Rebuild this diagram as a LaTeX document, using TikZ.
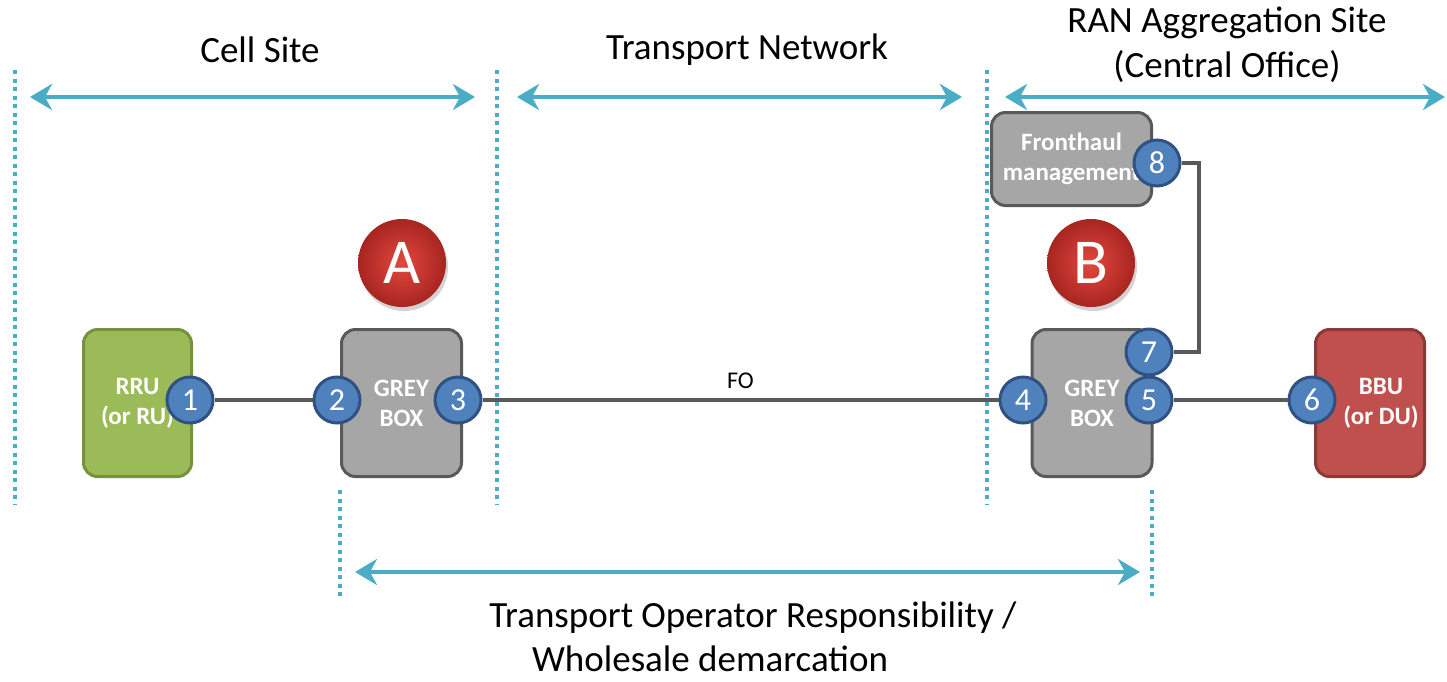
\documentclass[tikz,border=0pt]{standalone}
\usepackage{fontspec}
\setmainfont{Carlito}
\usetikzlibrary{arrows.meta,shadows}
\definecolor{sky}{HTML}{4BACC6}
\definecolor{portblue}{HTML}{4F81BD}
\definecolor{portedge}{HTML}{2F5283}
\definecolor{boxgrey}{HTML}{A6A6A6}
\definecolor{boxedge}{HTML}{595959}
\definecolor{rrugreen}{HTML}{9BBB59}
\definecolor{rruedge}{HTML}{76923C}
\definecolor{bbured}{HTML}{C0504D}
\definecolor{bbuedge}{HTML}{8C3836}
\definecolor{wirecol}{HTML}{595959}
\definecolor{ballin}{HTML}{E2483F}
\definecolor{ballout}{HTML}{A82520}
\begin{document}
\begin{tikzpicture}[x=1pt,y=-1pt,
  port/.style={circle, fill=portblue, draw=portedge, line width=3pt, minimum size=46pt, inner sep=0pt,
    text=white, font=\fontsize{32}{34}\selectfont},
  unit/.style={rounded corners=14pt, line width=3pt, text=white, align=center, inner sep=0pt,
    font=\bfseries\fontsize{25}{30}\selectfont},
  greybox/.style={unit, fill=boxgrey, draw=boxedge},
  ball/.style={circle, minimum size=88pt, inner sep=0pt, inner color=ballin, outer color=ballout,
    text=white, font=\fontsize{64}{64}\selectfont, drop shadow={opacity=0.35, shadow xshift=2pt, shadow yshift=-4pt}},
  wire/.style={draw=wirecol, line width=4pt},
  span/.style={draw=sky, line width=4pt, {Stealth[length=22pt,width=26pt,inset=7pt]}-{Stealth[length=22pt,width=26pt,inset=7pt]}},
  sep/.style={draw=sky, line width=3.5pt, dash pattern=on 4pt off 4.5pt},
  title/.style={font=\fontsize{37}{45}\selectfont, align=center, text=black}]
\useasboundingbox (0,0) rectangle (1447,681);

% separators
\draw[sep] (15,70) -- (15,505);
\draw[sep] (497,70) -- (497,505);
\draw[sep] (987,70) -- (987,505);
\draw[sep] (340,490) -- (340,600);
\draw[sep] (1152,490) -- (1152,600);

% span arrows
\coordinate (c1l) at (30,97);  \coordinate (c1r) at (475,97);
\coordinate (t1l) at (517,97); \coordinate (t1r) at (962,97);
\coordinate (r1l) at (1005,97); \coordinate (r1r) at (1445,97);
\coordinate (bl) at (355,572); \coordinate (br) at (1140,572);
\draw[span] (c1l) -- (c1r);
\draw[span] (t1l) -- (t1r);
\draw[span] (r1l) -- (r1r);
\draw[span] (bl) -- (br);

% titles
\node[title] (tcell) at (260,50) {Cell Site};
\node[title] (ttrans) at (747,50) {Transport Network};
\node[title] (tran) at (1227,45) {RAN Aggregation Site\\(Central Office)};
\node[title] (tresp) at (753,618) {Transport Operator Responsibility /};
\node[title] (twhole) at (710,659) {Wholesale demarcation};

% boxes
\node[unit, fill=rrugreen, draw=rruedge, minimum width=108pt, minimum height=147pt] (rru) at (137.5,403) {RRU\\(or RU)};
\node[greybox, minimum width=120pt, minimum height=147pt] (gba) at (401.5,403) {GREY\\BOX};
\node[greybox, minimum width=120pt, minimum height=147pt] (gbb) at (1092,403) {GREY\\BOX};
\node[unit, fill=bbured, draw=bbuedge, minimum width=109pt, minimum height=147pt] (bbu) at (1370,403) {\hspace*{22pt}BBU\\\hspace*{22pt}(or DU)};
\node[greybox, minimum width=160pt, minimum height=93pt] (fhm) at (1071.5,159) {Fronthaul\\management};

% balls
\node[ball] (ba) at (402,263) {A};
\node[ball] (bb) at (1091,263) {B};

% ports
\node[port] (p1) at (190,400) {1};
\node[port] (p2) at (337,400) {2};
\node[port] (p3) at (458,400) {3};
\node[port] (p4) at (1023,400) {4};
\node[port] (p7) at (1149,352) {7};
\node[port] (p5) at (1149,400) {5};
\node[port] (p6) at (1312,400) {6};
\node[port] (p8) at (1157,163) {8};

% wires
\draw[wire] (p1.east) -- (p2.west);
\draw[wire] (p3.east) -- node[above=6pt, font=\fontsize{24}{26}\selectfont, text=black] (fo) {FO} (p4.west);
\draw[wire] (p5.east) -- (p6.west);
\draw[wire] (p8.east) -- ++(17,0) |- (p7.east);
\end{tikzpicture}
\end{document}
